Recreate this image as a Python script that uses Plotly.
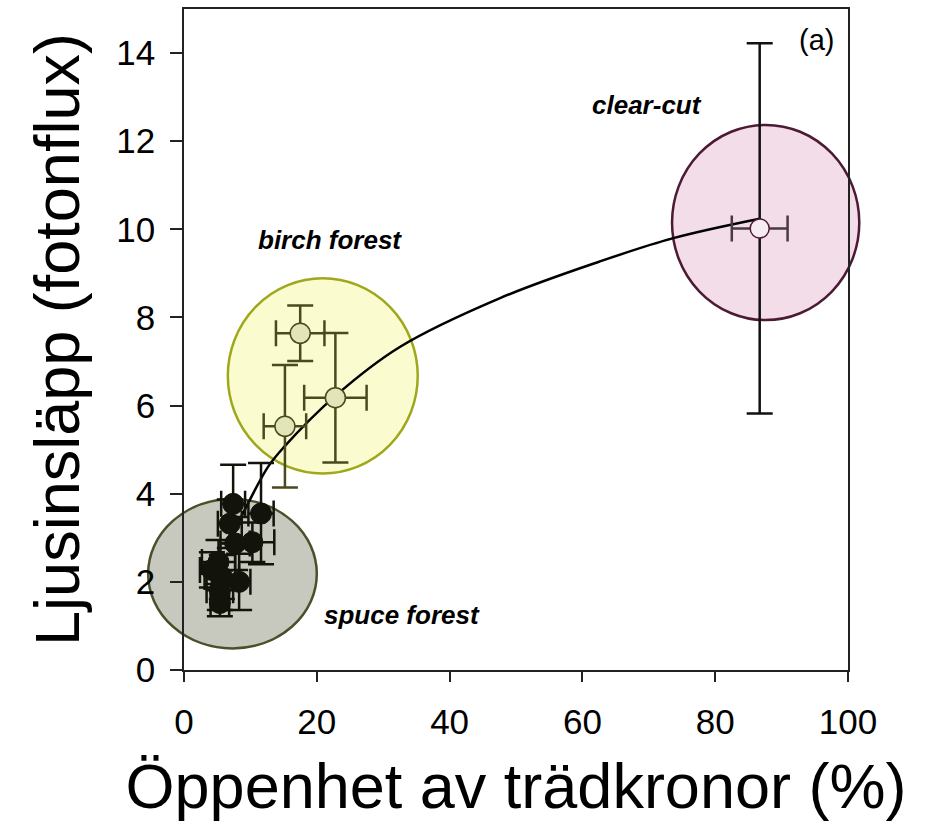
import plotly.graph_objects as go

# Axis ranges
X_RANGE = [0, 100]
Y_RANGE = [0, 15]

# Spruce forest plots: canopy openness (%) and light transmission
spruce_x = [7.4, 11.6, 6.9, 10.3, 7.7, 5.2, 4.2, 5.7, 8.3, 5.4, 5.4]
spruce_y = [3.77, 3.55, 3.32, 2.90, 2.87, 2.45, 2.27, 2.11, 2.00, 1.81, 1.52]
spruce_xerr = [1.8, 1.9, 1.8, 3.3, 2.2, 2.5, 1.8, 2.6, 1.7, 2.0, 1.4]
spruce_yerr = [0.89, 1.15, 0.55, 0.45, 0.60, 0.50, 0.40, 0.50, 0.64, 0.45, 0.30]

# Birch forest plots
birch_x = [17.5, 22.8, 15.2]
birch_y = [7.64, 6.18, 5.53]
birch_xerr = [3.65, 4.7, 3.2]
birch_yerr = [0.63, 1.47, 1.39]

# Clear-cut
clear_x = [86.7]
clear_y = [10.02]
clear_xerr = [4.2]
clear_yerr = [4.2]

# Fitted trend line
curve_x = [7.6, 9.2, 12.7, 15.0, 22.8, 32.5, 47.6, 62.6, 73.7, 86.7]
curve_y = [3.15, 3.65, 4.62, 5.05, 6.22, 7.33, 8.44, 9.27, 9.80, 10.24]

# Group ellipses (data-unit bounds)
zone_x0 = [-5.4, 6.6, 73.5]
zone_x1 = [20.0, 35.2, 101.7]
zone_y0 = [0.49, 4.46, 7.94]
zone_y1 = [3.88, 8.89, 12.37]
zone_fill = ["#c8c9be", "#fafccf", "#f3dde8"]
zone_line = ["#4b4f2a", "#9ea81a", "#4d1a35"]

# Group labels
label_text = ["clear-cut", "birch forest", "spuce forest"]
label_x = [69.7, 22.0, 32.8]
label_y = [12.83, 9.75, 1.24]

FONT = "Liberation Sans, Arial, sans-serif"


def to_paper_x(v):
    return (v - X_RANGE[0]) / (X_RANGE[1] - X_RANGE[0])


def to_paper_y(v):
    return (v - Y_RANGE[0]) / (Y_RANGE[1] - Y_RANGE[0])


fig = go.Figure()

# Trend curve
fig.add_trace(go.Scatter(
    x=curve_x, y=curve_y, mode="lines", line_shape="spline",
    line=dict(color="#000000", width=2.5), hoverinfo="skip",
))

# Clear-cut point
fig.add_trace(go.Scatter(
    x=clear_x, y=clear_y, mode="markers",
    marker=dict(size=19, color="#f7ebf1", line=dict(color="#4d1a35", width=1.5)),
    error_y=dict(type="data", array=clear_yerr, color="#111111", thickness=2.5, width=13),
    error_x=dict(type="data", array=clear_xerr, color="#4a3a44", thickness=2.5, width=13),
))

# Birch points
fig.add_trace(go.Scatter(
    x=birch_x, y=birch_y, mode="markers",
    marker=dict(size=20, color="#e1e5b8", line=dict(color="#4a4a1e", width=1.5)),
    error_y=dict(type="data", array=birch_yerr, color="#4a4a1e", thickness=2.5, width=13),
    error_x=dict(type="data", array=birch_xerr, color="#4a4a1e", thickness=2.5, width=13),
))

# Spruce points
fig.add_trace(go.Scatter(
    x=spruce_x, y=spruce_y, mode="markers",
    marker=dict(size=21, color="#12140b", line=dict(color="#12140b", width=1)),
    error_y=dict(type="data", array=spruce_yerr, color="#12140b", thickness=2.5, width=13),
    error_x=dict(type="data", array=spruce_xerr, color="#12140b", thickness=2.5, width=13),
))

# Ellipses around each stand type (paper-referenced so they may extend past the axes)
for x0, x1, y0, y1, fc, lc in zip(zone_x0, zone_x1, zone_y0, zone_y1, zone_fill, zone_line):
    fig.add_shape(
        type="circle", xref="paper", yref="paper",
        x0=to_paper_x(x0), x1=to_paper_x(x1), y0=to_paper_y(y0), y1=to_paper_y(y1),
        fillcolor=fc, line=dict(color=lc, width=2.5), layer="below",
    )

for t, x, y in zip(label_text, label_x, label_y):
    fig.add_annotation(
        x=x, y=y, text=f"<b><i>{t}</i></b>", showarrow=False,
        font=dict(family=FONT, size=26, color="#000000"),
    )

fig.add_annotation(
    x=95.3, y=14.3, text="(a)", showarrow=False,
    font=dict(family=FONT, size=29, color="#000000"),
)

fig.update_layout(
    width=928, height=829,
    margin=dict(l=184, r=80, t=7, b=159),
    paper_bgcolor="#ffffff", plot_bgcolor="rgba(0,0,0,0)",
    showlegend=False,
    font=dict(family=FONT, color="#000000"),
)

fig.update_xaxes(
    range=X_RANGE, tickvals=[0, 20, 40, 60, 80, 100],
    showgrid=False, zeroline=False,
    showline=True, linecolor="#222222", linewidth=1.5, mirror=True,
    ticks="outside", ticklen=10, tickwidth=1.5, tickcolor="#222222",
    tickfont=dict(family=FONT, size=35, color="#000000"),
    ticklabelstandoff=10,
    title=dict(text="Öppenhet av trädkronor (%)", standoff=24,
               font=dict(family=FONT, size=63, color="#000000")),
)

fig.update_yaxes(
    range=Y_RANGE, tickvals=[0, 2, 4, 6, 8, 10, 12, 14],
    showgrid=False, zeroline=False,
    showline=True, linecolor="#222222", linewidth=1.5, mirror=True,
    ticks="outside", ticklen=12, tickwidth=1.5, tickcolor="#222222",
    tickfont=dict(family=FONT, size=35, color="#000000"),
    ticklabelstandoff=8,
    title=dict(text="Ljusinsläpp (fotonflux)", standoff=16,
               font=dict(family=FONT, size=63, color="#000000")),
)

fig.write_html("out.html")
